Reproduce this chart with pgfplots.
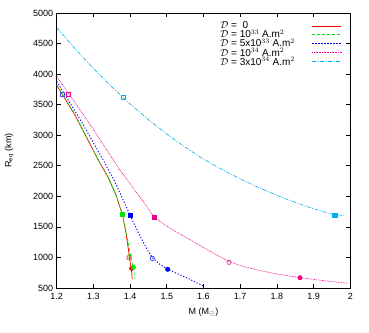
\documentclass[border=0pt]{standalone}
\usepackage{pgfplots}
\pgfplotsset{compat=1.18}
\usepackage{fontspec}
\setmainfont{Liberation Sans}
\definecolor{cgreen}{RGB}{0,230,0}
\definecolor{cred}{RGB}{255,0,0}
\definecolor{cblue}{RGB}{0,0,255}
\begin{document}
\begin{tikzpicture}
\useasboundingbox (-56.7pt,-44pt) rectangle (312.3pt,288pt);
\begin{axis}[
  scale only axis, width=293.6pt, height=275pt,
  xmin=1.2, xmax=2, ymin=500, ymax=5000,
  xtick={1.2,1.3,...,2.0}, ytick={500,1000,...,5000},
  xticklabels={1.2,1.3,1.4,1.5,1.6,1.7,1.8,1.9,2},
  tick align=inside, major tick length=4pt,
  tick style={black, line width=0.6pt},
  axis line style={line width=0.8pt},
  /pgf/number format/assume math mode=true,
  /pgf/number format/1000 sep={},
  scaled ticks=false,
  tick label style={font=\fontsize{9}{10}\selectfont},
  xticklabel style={yshift=-1.5pt},
  label style={font=\fontsize{9}{10}\selectfont},
  xlabel={M (M$_{\odot}$)},
  ylabel={R$_{\mathrm{eq}}$ (km)},
  xlabel style={at={(axis description cs:0.5,0)}, anchor=center, yshift=-24pt},
  ylabel style={at={(axis description cs:-0.162,0.5)}, anchor=center},
  legend style={at={(axis cs:1.64,4890)}, anchor=north west, draw=none, fill=none,
    font=\fontsize{10}{11}\selectfont, row sep=-4.6pt, inner sep=0pt,
    column sep=15pt},
  legend cell align=left,
  legend plot pos=right,
  legend image code/.code={\draw[#1, line width=0.9pt] (0pt,0pt) -- (29pt,0pt);},
]
% D = 0
\addplot[cred, line width=0.7pt] coordinates {
(1.2000,3817) (1.2499,3327) (1.3134,2592) (1.3398,2314) (1.3616,2020) (1.3787,1709) (1.3888,1399) (1.3956,1121) (1.3992,958) (1.4030,827) (1.4060,647)};
\addlegendentry{$\mathcal{D}$ =\ \ 0}
% D = 1e33
\addplot[cgreen, line width=0.7pt, dash pattern=on 3pt off 2pt] coordinates {
(1.2000,3827) (1.2499,3337) (1.3134,2600) (1.3398,2320) (1.3616,2025) (1.3787,1709) (1.3902,1399) (1.3984,1121) (1.4038,958) (1.4087,838) (1.4133,647)};
\addlegendentry{$\mathcal{D}$ = 10$^{33}$ A.m$^2$}
% D = 5e33
\addplot[cblue, line width=0.9pt, dash pattern=on 1.2pt off 1.8pt] coordinates {
(1.2000,3882) (1.2635,3261) (1.3270,2592) (1.3589,2232) (1.3997,1693) (1.4270,1350) (1.4460,1137) (1.4605,998) (1.4815,884) (1.5024,806) (1.5496,680) (1.5995,533)};
\addlegendentry{$\mathcal{D}$ = 5x10$^{33}$ A.m$^2$}
% D = 1e34
\addplot[magenta, line width=0.6pt, dash pattern=on 0.8pt off 0.8pt] coordinates {
(1.2000,3964) (1.2907,3180) (1.3725,2428) (1.4270,1987) (1.4660,1660) (1.4951,1529) (1.5270,1415) (1.5815,1227) (1.6313,1056) (1.6695,933) (1.7130,843) (1.7540,786) (1.8085,721) (1.8630,668) (1.9310,618) (1.9937,577)};
\addlegendentry{$\mathcal{D}$ = 10$^{34}$ A.m$^2$}
% D = 3e34
\addplot[cyan, line width=0.6pt, dash pattern=on 4pt off 1.5pt on 1pt off 1.5pt] coordinates {
(1.20,4760) (1.25,4416) (1.30,4093) (1.35,3791) (1.40,3512) (1.45,3255) (1.50,3019) (1.55,2804) (1.60,2611) (1.65,2440) (1.70,2286) (1.75,2144) (1.80,2016) (1.85,1900) (1.90,1797) (1.958,1693) (1.985,1690)};
\addlegendentry{$\mathcal{D}$ = 3x10$^{34}$ A.m$^2$}
% markers
\addplot[only marks, forget plot, line width=0.5pt, mark=square, mark size=2pt, cgreen] coordinates {(1.214,3665)};
\addplot[only marks, forget plot, line width=0.5pt, mark=square, mark size=2pt, cblue!70] coordinates {(1.216,3665)};
\addplot[only marks, forget plot, line width=0.5pt, mark=square, mark size=2pt, magenta] coordinates {(1.232,3665)};
\addplot[only marks, forget plot, line width=0.5pt, mark=square, mark size=2pt, cyan] coordinates {(1.381,3616)};
\addplot[only marks, forget plot, line width=0.5pt, mark=square*, mark size=2.2pt, cgreen] coordinates {(1.3787,1709)};
\addplot[only marks, forget plot, line width=0.5pt, mark=square*, mark size=2.2pt, cblue] coordinates {(1.3997,1693)};
\addplot[only marks, forget plot, line width=0.5pt, mark=square*, mark size=2.2pt, magenta] coordinates {(1.466,1655)};
\addplot[only marks, forget plot, line width=0.5pt, mark=square*, mark size=2.2pt, cyan] coordinates {(1.958,1693)};
\addplot[only marks, forget plot, line width=0.5pt, mark=o, mark size=2.2pt, cred] coordinates {(1.3967,995)};
\addplot[only marks, forget plot, line width=0.5pt, mark=o, mark size=2.2pt, cgreen] coordinates {(1.399,1020)};
\addplot[only marks, forget plot, line width=0.5pt, mark=o, mark size=2.2pt, cblue] coordinates {(1.4605,985)};
\addplot[only marks, forget plot, line width=0.5pt, mark=o, mark size=2.2pt, magenta] coordinates {(1.6695,920)};
\addplot[only marks, forget plot, line width=0.5pt, mark=*, mark size=2.2pt, cred] coordinates {(1.4043,822)};
\addplot[only marks, forget plot, line width=0.5pt, mark=*, mark size=2.2pt, cgreen] coordinates {(1.4087,838)};
\addplot[only marks, forget plot, line width=0.5pt, mark=*, mark size=2.2pt, cblue] coordinates {(1.5024,806)};
\addplot[only marks, forget plot, line width=0.5pt, mark=*, mark size=2.2pt, magenta] coordinates {(1.863,668)};
\end{axis}
\end{tikzpicture}
\end{document}
